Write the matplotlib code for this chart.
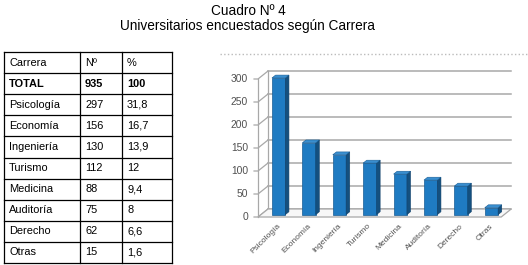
import matplotlib.pyplot as plt
from matplotlib.patches import Polygon
from matplotlib.lines import Line2D

plt.rcParams['font.family'] = ['Liberation Sans', 'DejaVu Sans']

# data
carreras = ['Psicología', 'Economía', 'Ingeniería', 'Turismo', 'Medicina',
            'Auditoría', 'Derecho', 'Otras']
cantidad = [297, 156, 130, 112, 88, 75, 62, 15]
porcentaje = ['31,8', '16,7', '13,9', '12', '9,4', '8', '6,6', '1,6']
total_n = 935
total_pct = '100'
yticks = [0, 50, 100, 150, 200, 250, 300]

W, H = 528, 265
fig = plt.figure(figsize=(W / 100, H / 100), dpi=100)

# titles
fig.text(248 / W, 1 - 11 / H, 'Cuadro Nº 4', ha='center', va='center', fontsize=9.8)
fig.text(248 / W, 1 - 26 / H, 'Universitarios encuestados según Carrera',
         ha='center', va='center', fontsize=9.8)

# ---- table (pixel coordinates) ----
tab = fig.add_axes([0, 0, 1, 1])
tab.set_xlim(0, W)
tab.set_ylim(H, 0)
tab.axis('off')

rows = [('Carrera', 'Nº', '%', 'normal'), ('TOTAL', str(total_n), total_pct, 'bold')]
rows += [(c, str(n), p, 'normal') for c, n, p in zip(carreras, cantidad, porcentaje)]

col_x = [4, 80, 122, 172]
top, bottom = 52, 263
row_h = (bottom - top) / len(rows)
for i in range(len(rows) + 1):
    tab.plot([col_x[0], col_x[-1]], [top + i * row_h] * 2, color='black', lw=0.9)
for x in col_x:
    tab.plot([x, x], [top, bottom], color='black', lw=0.9)
for i, (a, b, c, w) in enumerate(rows):
    yc = top + (i + 0.5) * row_h
    for x, t in zip(col_x[:3], (a, b, c)):
        tab.text(x + 5, yc, t, ha='left', va='center', fontsize=7.9, fontweight=w)

# dotted chart border
fig.add_artist(Line2D([220 / W, 1], [1 - 54 / H] * 2, color='#bbbbbb', lw=1,
                      linestyle=':', transform=fig.transFigure))

# ---- pseudo 3D bar chart ----
ax = fig.add_axes([230 / W, 1 - 255 / H, (525 - 230) / W, (255 - 60) / H])
ax.set_xlim(-0.921, 8.783)
ax.set_ylim(-82.6, 341.3)
ax.axis('off')

n = len(carreras)
DX, DY = 0.33, 17.4
grid_c = '#a8a8a8'

# back wall gridlines + side diagonals + ticks
for v in yticks:
    ax.plot([DX, n + DX], [v + DY, v + DY], color=grid_c, lw=1.1, zorder=1)
    ax.plot([-0.13, 0, DX], [v, v, v + DY], color=grid_c, lw=0.9, zorder=1)
    ax.text(-0.33, v, str(v), ha='right', va='center', fontsize=7.4, color='#505050')
ax.plot([0, 0], [0, yticks[-1]], color=grid_c, lw=0.9, zorder=1)
ax.plot([DX, DX], [DY, yticks[-1] + DY], color=grid_c, lw=0.9, zorder=1)
# floor
floor = Polygon([(0, 0), (n, 0), (n + DX, DY), (DX, DY)], closed=True,
                facecolor='#f7f7f7', edgecolor=grid_c, lw=0.9, zorder=1)
ax.add_patch(floor)

# bars
f = 0.3
bw = 0.44
xs = [i + 0.5 + f * DX + 0.08 for i in range(n)]
base = f * DY
ax.bar(xs, cantidad, width=bw, bottom=base, color='#1f7bc2',
       edgecolor='#175c94', lw=0.5, zorder=3)
ddx, ddy = 0.36 * DX, 0.36 * DY
for x, v in zip(xs, cantidad):
    x0, x1 = x - bw / 2, x + bw / 2
    yt = v + base
    side = Polygon([(x1, base), (x1, yt), (x1 + ddx, yt + ddy), (x1 + ddx, base + ddy)],
                   closed=True, facecolor='#14507f', edgecolor='#10406a', lw=0.4, zorder=3)
    topf = Polygon([(x0, yt), (x1, yt), (x1 + ddx, yt + ddy), (x0 + ddx, yt + ddy)],
                   closed=True, facecolor='#3a8fd0', edgecolor='#175c94', lw=0.4, zorder=3)
    ax.add_patch(side)
    ax.add_patch(topf)

# category labels
for i, c in enumerate(carreras):
    ax.text(i + 0.62, -12, c, rotation=45, ha='right', va='top', fontsize=6,
            color='#505050', rotation_mode='anchor')

fig.savefig('out.png', dpi=100)
